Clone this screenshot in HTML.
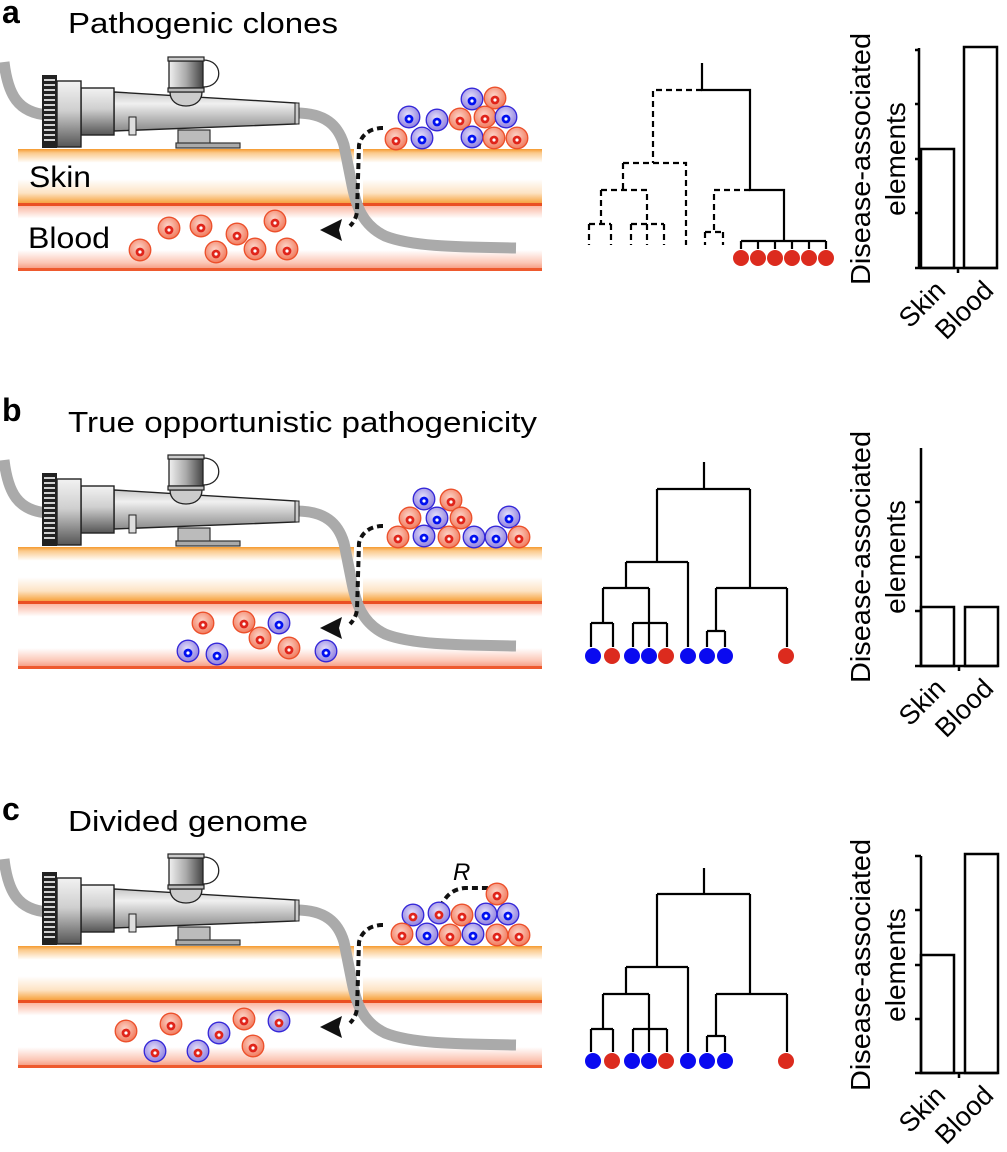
<!DOCTYPE html>
<html><head><meta charset="utf-8"><style>
html,body{margin:0;padding:0;background:#fff;}
svg{display:block;font-family:"Liberation Sans",Arial,sans-serif;}
</style></head><body>
<svg width="1007" height="1152" viewBox="0 0 1007 1152" xmlns="http://www.w3.org/2000/svg">
<defs>
 <linearGradient id="skin" x1="0" y1="0" x2="0" y2="1">
  <stop offset="0" stop-color="#f59a2e"/><stop offset="0.07" stop-color="#fbc98a"/>
  <stop offset="0.25" stop-color="#fff"/><stop offset="0.55" stop-color="#fff"/>
  <stop offset="0.8" stop-color="#fde3c4"/><stop offset="0.95" stop-color="#f8ae55"/>
  <stop offset="1" stop-color="#f39a3a"/>
 </linearGradient>
 <linearGradient id="blood" x1="0" y1="0" x2="0" y2="1">
  <stop offset="0" stop-color="#fbb7a2"/><stop offset="0.2" stop-color="#fff"/>
  <stop offset="0.7" stop-color="#fff"/><stop offset="0.9" stop-color="#fcc7b6"/>
  <stop offset="1" stop-color="#f59a80"/>
 </linearGradient>
 <linearGradient id="cyl" x1="0" y1="0" x2="0" y2="1">
  <stop offset="0" stop-color="#f2f2f2"/><stop offset="0.45" stop-color="#cfcfcf"/><stop offset="1" stop-color="#555"/>
 </linearGradient>
 <linearGradient id="cone" x1="0" y1="0" x2="0" y2="1">
  <stop offset="0" stop-color="#c8c8c8"/><stop offset="0.3" stop-color="#f0f0f0"/><stop offset="1" stop-color="#8a8a8a"/>
 </linearGradient>
 <linearGradient id="cup" x1="0" y1="0" x2="1" y2="0">
  <stop offset="0" stop-color="#f0f0f0"/><stop offset="0.5" stop-color="#aaa"/><stop offset="1" stop-color="#444"/>
 </linearGradient>
 <radialGradient id="rg" cx="0.45" cy="0.4" r="0.6">
  <stop offset="0" stop-color="#fcd6cb"/><stop offset="1" stop-color="#f27a5c"/>
 </radialGradient>
 <radialGradient id="bg" cx="0.45" cy="0.4" r="0.6">
  <stop offset="0" stop-color="#e6e1fa"/><stop offset="1" stop-color="#8f80e0"/>
 </radialGradient>
 <g id="rc"><circle r="10.8" fill="url(#rg)" stroke="#ec4f2a" stroke-width="1.3"/><circle cy="2" r="4.4" fill="#e0241a"/><circle cy="2" r="1.6" fill="#fff"/></g>
 <g id="bc"><circle r="10.8" fill="url(#bg)" stroke="#3326d8" stroke-width="1.3"/><circle cy="2" r="4.4" fill="#0010f0"/><circle cy="2" r="1.6" fill="#fff"/></g>
 <g id="bcr"><circle r="10.8" fill="url(#bg)" stroke="#3326d8" stroke-width="1.3"/><circle cy="2" r="4.4" fill="#e0241a"/><circle cy="2" r="1.6" fill="#fff"/></g>
 <g id="scene">
  <rect x="18" y="149" width="524" height="55" fill="url(#skin)"/>
  <rect x="18" y="203" width="524" height="3" fill="#ea4f22"/>
  <rect x="18" y="206" width="524" height="63" fill="url(#blood)"/>
  <rect x="18" y="268" width="524" height="3" fill="#ee5a2e"/>
  <rect x="354" y="149" width="9" height="54" fill="#fff"/>
  <path d="M4,62 C8,95 18,113 48,115" fill="none" stroke="#aaa" stroke-width="11"/>
  <path d="M296,113 C325,113 338,125 344,145 L352,185 C356,205 362,225 385,236 C410,246 450,247 516,248" fill="none" stroke="#aaa" stroke-width="11"/>
  <rect x="178" y="130" width="32" height="14" fill="#bbb" stroke="#333" stroke-width="1.2"/>
  <rect x="176" y="143" width="64" height="5" fill="#aaa" stroke="#333" stroke-width="1.2"/>
  <path d="M114,92 L296,103 L296,124 L114,131 Z" fill="url(#cone)" stroke="#222" stroke-width="1.4"/>
  <rect x="295" y="103" width="4" height="21" fill="#ccc" stroke="#222" stroke-width="1"/>
  <rect x="129" y="117" width="7" height="18" fill="#ddd" stroke="#222" stroke-width="1"/>
  <rect x="81" y="88" width="33" height="47" fill="url(#cyl)" stroke="#222" stroke-width="1.4"/>
  <rect x="57" y="81" width="24" height="66" fill="url(#cyl)" stroke="#222" stroke-width="1.4"/>
  <rect x="42" y="75" width="15" height="73" fill="#222"/>
  <g stroke="#fff" stroke-width="1.6">
   <line x1="44" y1="80" x2="55" y2="80"/><line x1="44" y1="85" x2="55" y2="85"/><line x1="44" y1="90" x2="55" y2="90"/>
   <line x1="44" y1="95" x2="55" y2="95"/><line x1="44" y1="100" x2="55" y2="100"/><line x1="44" y1="105" x2="55" y2="105"/>
   <line x1="44" y1="110" x2="55" y2="110"/><line x1="44" y1="115" x2="55" y2="115"/><line x1="44" y1="120" x2="55" y2="120"/>
   <line x1="44" y1="125" x2="55" y2="125"/><line x1="44" y1="130" x2="55" y2="130"/><line x1="44" y1="135" x2="55" y2="135"/>
   <line x1="44" y1="140" x2="55" y2="140"/>
  </g>
  <path d="M170,92 L202,92 C202,101 195,106 186,106 C177,106 170,101 170,92 Z" fill="#ccc" stroke="#222" stroke-width="1.3"/>
  <path d="M203,60 C224,60 224,87 203,87" fill="none" stroke="#222" stroke-width="1.3"/>
  <rect x="169" y="61" width="34" height="27" fill="url(#cup)" stroke="#222" stroke-width="1.3"/>
  <rect x="168" y="57" width="36" height="4" fill="#ccc" stroke="#222" stroke-width="1.2"/>
  <rect x="168" y="88" width="36" height="4" fill="#bbb" stroke="#222" stroke-width="1.2"/>
  <path d="M383,128 C372,128 362,133 359,145 L357,212 C356,218 354,222 350,226" fill="none" stroke="#111" stroke-width="4" stroke-dasharray="6 4"/>
  <path d="M320,230 L342,219 L339,230 L342,241 Z" fill="#111"/>
 </g>
</defs>

<text x="2" y="23" font-size="32" font-weight="bold">a</text>
<text x="68" y="33" font-size="29" textLength="270" lengthAdjust="spacingAndGlyphs">Pathogenic clones</text>
<use href="#scene"/>
<text x="29" y="187" font-size="30" textLength="62" lengthAdjust="spacingAndGlyphs">Skin</text>
<text x="28" y="248" font-size="30" textLength="82" lengthAdjust="spacingAndGlyphs">Blood</text>
<use href="#rc" x="396" y="139"/><use href="#bc" x="409" y="117"/><use href="#bc" x="422" y="138"/><use href="#bc" x="437" y="120"/>
<use href="#bc" x="472" y="99"/><use href="#rc" x="495" y="98"/><use href="#rc" x="460" y="119"/><use href="#rc" x="485" y="117"/>
<use href="#bc" x="506" y="117"/><use href="#bc" x="472" y="137"/><use href="#rc" x="494" y="138"/><use href="#rc" x="517" y="138"/>
<use href="#rc" x="140" y="250"/><use href="#rc" x="169" y="228"/><use href="#rc" x="201" y="226"/><use href="#rc" x="237" y="234"/>
<use href="#rc" x="275" y="221"/><use href="#rc" x="216" y="252"/><use href="#rc" x="255" y="249"/><use href="#rc" x="287" y="249"/>

<g stroke="#000" stroke-width="2.2" fill="none">
 <path d="M702,63 V90 H750 V190 H784 V241 M741,241 H826 M741,241 V249 M758,241 V249 M775,241 V249 M792,241 V249 M809,241 V249 M826,241 V249"/>
 <path stroke-dasharray="6 4" d="M702,90 H653 V163 M623,163 H686 V245 M623,163 V190 M601,190 H647 V245 M601,190 V224 M589,224 H611 M589,224 V245 M611,224 V245 M631,224 H664 M631,224 V245 M664,224 V245 M750,190 H714 V232 M705,232 H723 M705,232 V245 M723,232 V245"/>
</g>
<g fill="#dc2b1e"><circle cx="741" cy="258" r="8"/><circle cx="758" cy="258" r="8"/><circle cx="775" cy="258" r="8"/><circle cx="792" cy="258" r="8"/><circle cx="809" cy="258" r="8"/><circle cx="826" cy="258" r="8"/></g>

<g stroke="#000" stroke-width="2.5" fill="#fff">
 <rect x="921" y="149" width="33" height="119"/>
 <rect x="964" y="47" width="33" height="221"/>
 <path d="M919,48 V268 H998 M915,50 H919 M915,104 H919 M915,159 H919 M915,213 H919 M915,268 H919 M958,268 V273" fill="none"/>
</g>
<text transform="translate(870,159) rotate(-90)" font-size="28" text-anchor="middle" textLength="252" lengthAdjust="spacingAndGlyphs">Disease-associated</text>
<text transform="translate(905,159) rotate(-90)" font-size="28" text-anchor="middle">elements</text>
<text transform="translate(947,292) rotate(-45)" font-size="27" text-anchor="end">Skin</text>
<text transform="translate(995,292) rotate(-45)" font-size="27" text-anchor="end">Blood</text>

<text x="2" y="421" font-size="32" font-weight="bold">b</text>
<text x="68" y="432" font-size="29" textLength="469" lengthAdjust="spacingAndGlyphs">True opportunistic pathogenicity</text>
<use href="#scene" y="398"/>
<use href="#bc" x="424" y="499"/><use href="#rc" x="451" y="500"/><use href="#rc" x="410" y="518"/><use href="#bc" x="437" y="518"/>
<use href="#rc" x="461" y="518"/><use href="#bc" x="509" y="517"/><use href="#rc" x="398" y="537"/><use href="#bc" x="424" y="536"/>
<use href="#rc" x="449" y="537"/><use href="#bc" x="474" y="537"/><use href="#bc" x="496" y="537"/><use href="#rc" x="519" y="537"/>
<use href="#rc" x="203" y="623"/><use href="#rc" x="244" y="622"/><use href="#bc" x="279" y="623"/><use href="#rc" x="260" y="638"/>
<use href="#rc" x="289" y="648"/><use href="#bc" x="188" y="651"/><use href="#bc" x="217" y="654"/><use href="#bc" x="326" y="651"/>

<g stroke="#000" stroke-width="2.2" fill="none">
 <path d="M704,462 V489 M657,489 H750 M657,489 V562 M626,562 H688 M688,562 V647 M626,562 V588 M603,588 H649 M603,588 V623 M591,623 H613 M591,623 V647 M613,623 V647 M649,588 V647 M633,623 H667 M633,623 V647 M667,623 V647 M750,489 V588 M716,588 H787 M787,588 V647 M716,588 V631 M707,631 H725 M707,631 V647 M725,631 V647"/>
</g>
<g><circle cx="593" cy="656" r="8" fill="#0a0af0"/><circle cx="612" cy="656" r="8" fill="#dc2b1e"/><circle cx="632" cy="656" r="8" fill="#0a0af0"/><circle cx="649" cy="656" r="8" fill="#0a0af0"/><circle cx="666" cy="656" r="8" fill="#dc2b1e"/><circle cx="688" cy="656" r="8" fill="#0a0af0"/><circle cx="707" cy="656" r="8" fill="#0a0af0"/><circle cx="725" cy="656" r="8" fill="#0a0af0"/><circle cx="786" cy="656" r="8" fill="#dc2b1e"/></g>

<g stroke="#000" stroke-width="2.5" fill="#fff">
 <rect x="921" y="607" width="33" height="59"/>
 <rect x="965" y="607" width="33" height="59"/>
 <path d="M921,448 V666 H998 M915,502 H921 M915,557 H921 M915,611 H921 M915,666 H921 M959,666 V671" fill="none"/>
</g>
<text transform="translate(870,557) rotate(-90)" font-size="28" text-anchor="middle" textLength="252" lengthAdjust="spacingAndGlyphs">Disease-associated</text>
<text transform="translate(905,557) rotate(-90)" font-size="28" text-anchor="middle">elements</text>
<text transform="translate(947,690) rotate(-45)" font-size="27" text-anchor="end">Skin</text>
<text transform="translate(995,690) rotate(-45)" font-size="27" text-anchor="end">Blood</text>

<text x="2" y="820" font-size="32" font-weight="bold">c</text>
<text x="68" y="831" font-size="29" textLength="240" lengthAdjust="spacingAndGlyphs">Divided genome</text>
<use href="#scene" y="797"/>
<text x="453" y="880" font-size="24" font-style="italic">R</text>
<path d="M440,907 C446,896 452,889 465,888 L495,888" fill="none" stroke="#111" stroke-width="4" stroke-dasharray="6 4"/>
<use href="#rc" x="497" y="894"/><use href="#bcr" x="413" y="915"/><use href="#bcr" x="439" y="913"/><use href="#rc" x="462" y="915"/>
<use href="#bc" x="486" y="914"/><use href="#bc" x="508" y="914"/><use href="#rc" x="402" y="934"/><use href="#bc" x="427" y="934"/>
<use href="#rc" x="450" y="935"/><use href="#bc" x="473" y="934"/><use href="#rc" x="497" y="935"/><use href="#rc" x="519" y="935"/>
<use href="#rc" x="126" y="1031"/><use href="#rc" x="171" y="1024"/><use href="#bcr" x="219" y="1033"/><use href="#rc" x="244" y="1019"/>
<use href="#bcr" x="279" y="1021"/><use href="#rc" x="253" y="1046"/><use href="#bcr" x="155" y="1051"/><use href="#bcr" x="198" y="1051"/>

<g stroke="#000" stroke-width="2.2" fill="none">
 <path d="M704,868 V894 M657,894 H750 M657,894 V967 M626,967 H688 M688,967 V1052 M626,967 V994 M603,994 H649 M603,994 V1029 M591,1029 H613 M591,1029 V1052 M613,1029 V1052 M649,994 V1052 M633,1029 H667 M633,1029 V1052 M667,1029 V1052 M750,894 V994 M716,994 H787 M787,994 V1052 M716,994 V1036 M707,1036 H725 M707,1036 V1052 M725,1036 V1052"/>
</g>
<g><circle cx="593" cy="1061" r="8" fill="#0a0af0"/><circle cx="612" cy="1061" r="8" fill="#dc2b1e"/><circle cx="632" cy="1061" r="8" fill="#0a0af0"/><circle cx="649" cy="1061" r="8" fill="#0a0af0"/><circle cx="666" cy="1061" r="8" fill="#dc2b1e"/><circle cx="688" cy="1061" r="8" fill="#0a0af0"/><circle cx="707" cy="1061" r="8" fill="#0a0af0"/><circle cx="725" cy="1061" r="8" fill="#0a0af0"/><circle cx="786" cy="1061" r="8" fill="#dc2b1e"/></g>

<g stroke="#000" stroke-width="2.5" fill="#fff">
 <rect x="921" y="955" width="33" height="118"/>
 <rect x="965" y="854" width="33" height="219"/>
 <path d="M921,856 V1073 H998 M915,856 H921 M915,910 H921 M915,965 H921 M915,1019 H921 M915,1073 H921 M959,1073 V1078" fill="none"/>
</g>
<text transform="translate(870,965) rotate(-90)" font-size="28" text-anchor="middle" textLength="252" lengthAdjust="spacingAndGlyphs">Disease-associated</text>
<text transform="translate(905,965) rotate(-90)" font-size="28" text-anchor="middle">elements</text>
<text transform="translate(947,1097) rotate(-45)" font-size="27" text-anchor="end">Skin</text>
<text transform="translate(995,1097) rotate(-45)" font-size="27" text-anchor="end">Blood</text>
</svg>
</body></html>
